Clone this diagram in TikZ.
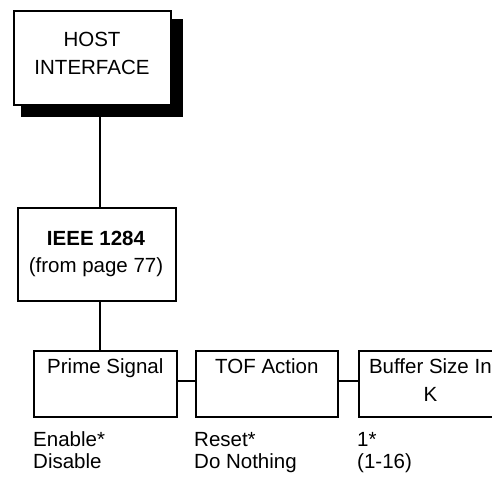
\documentclass[tikz,border=0pt]{standalone}
\usepackage{fontspec}
\setmainfont{Liberation Sans}
\begin{document}
\begin{tikzpicture}[x=1pt,y=-1pt,
  box/.style={draw=black,line width=1.7pt,fill=white,rectangle,inner sep=0pt,anchor=north west},
  link/.style={draw=black,line width=1.7pt},
  lbl/.style={inner sep=0pt,anchor=base,font=\fontsize{20.5}{24}\selectfont},
  opt/.style={inner sep=0pt,anchor=base west,font=\fontsize{20.5}{24}\selectfont}]
\clip (0,0) rectangle (492,478);
\fill[white] (0,0) rectangle (492,478);
% host interface with shadow
\node[fill=black,rectangle,inner sep=0pt,anchor=north west,minimum width=162pt,minimum height=98pt] (hostshadow) at (21,19) {};
\node[box,minimum width=157pt,minimum height=94pt] (host) at (13,10) {};
\node[lbl] (hostA) at (92,47) {HOST};
\node[lbl] (hostB) at (92,75) {INTERFACE};
% ieee
\node[box,minimum width=158pt,minimum height=93pt] (ieee) at (17,207) {};
\node[lbl,font=\fontsize{20.5}{24}\selectfont\bfseries] (ieeeA) at (96,245) {IEEE 1284};
\node[lbl] (ieeeB) at (96,272) {(from page 77)};
\coordinate (spine) at (100,0);
\draw[link] (hostshadow.south -| spine) -- (ieee.north -| spine);
% bottom row
\node[box,minimum width=143pt,minimum height=66pt] (prime) at (33,350) {};
\node[box,minimum width=142pt,minimum height=66pt] (tof) at (195,350) {};
\node[box,minimum width=143pt,minimum height=66pt] (buf) at (358,350) {};
\draw[link] (ieee.south -| spine) -- (prime.north -| spine);
\draw[link] (prime.east |- 0,381) -- (tof.west |- 0,381);
\draw[link] (tof.east |- 0,381) -- (buf.west |- 0,381);
\node[lbl] (primeT) at (prime.north |- 0,373) {Prime Signal};
\node[lbl] (tofT) at (tof.north |- 0,373) {TOF Action};
\node[lbl] (bufA) at (buf.north |- 0,373) {Buffer Size In};
\node[lbl] (bufB) at (buf.north |- 0,401) {K};
% options
\node[opt] (o1) at (33,446) {Enable*};
\node[opt] (o2) at (33,468) {Disable};
\node[opt] (o3) at (194,446) {Reset*};
\node[opt] (o4) at (194,468) {Do Nothing};
\node[opt] (o5) at (357,446) {1*};
\node[opt] (o6) at (357,468) {(1-16)};
\end{tikzpicture}
\end{document}
